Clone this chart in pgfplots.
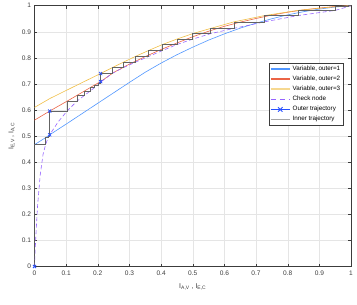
\documentclass[border=0pt]{standalone}
\usepackage{pgfplots}
\pgfplotsset{compat=1.18}
\usepackage{fontspec}
\setmainfont{Liberation Sans}
\definecolor{cblue}{RGB}{80,150,255}
\definecolor{cred}{RGB}{235,100,70}
\definecolor{cyel}{RGB}{240,190,70}
\definecolor{cpur}{RGB}{150,100,255}
\definecolor{couter}{RGB}{40,80,255}
\definecolor{cinner}{RGB}{100,100,100}
\definecolor{caxis}{RGB}{60,60,60}
\begin{document}
\begin{tikzpicture}
\begin{axis}[
  scale only axis, width=316.5bp, height=260.8bp,
  xmin=0, xmax=1, ymin=0, ymax=1,
  xtick={0,0.1,0.2,0.3,0.4,0.5,0.6,0.7,0.8,0.9,1},
  ytick={0,0.1,0.2,0.3,0.4,0.5,0.6,0.7,0.8,0.9,1},
  xticklabels={0,0.1,0.2,0.3,0.4,0.5,0.6,0.7,0.8,0.9,1},
  yticklabels={0,0.1,0.2,0.3,0.4,0.5,0.6,0.7,0.8,0.9,1},
  tick align=inside, tick pos=both, major tick length=3bp,
  grid=major, grid style={line width=0.4pt, color=black!10},
  axis line style={line width=0.5pt, color=caxis},
  tick style={color=caxis, line width=0.4pt},
  ticklabel style={font=\fontsize{6.6}{7}\selectfont, text=caxis},
  xticklabel style={yshift=-1bp},
  xlabel={I\textsubscript{A,V} , I\textsubscript{E,C}},
  ylabel={I\textsubscript{E,V} , I\textsubscript{A,C}},
  label style={font=\fontsize{7}{8}\selectfont, text=caxis},
  xlabel style={yshift=-1bp},
  legend style={at={(0.976,0.78)}, anchor=north east,
    font=\fontsize{6.3}{7.6}\selectfont, draw=caxis,
    inner sep=1bp, cells={anchor=west}},
  every axis plot/.append style={line width=0.6pt},
  unbounded coords=jump,
]
\addplot[color=cblue, legend image code/.code={\draw[cblue, line width=1.7pt] (0bp,0bp) -- (19bp,0bp);}] coordinates {
(0,0.467) (0.035,0.494) (0.048,0.505) (0.1,0.546) (0.15,0.586) (0.2,0.626)
(0.25,0.666) (0.3,0.706) (0.35,0.745) (0.4,0.780) (0.45,0.812) (0.5,0.841)
(0.55,0.868) (0.6,0.892) (0.65,0.914) (0.7,0.933) (0.75,0.950) (0.8,0.965)
(0.85,0.977) (0.9,0.987) (0.95,0.995) (1,1)};
\addlegendentry{Variable, outer=1}
\addplot[color=cred, legend image code/.code={\draw[cred, line width=1.7pt] (0bp,0bp) -- (19bp,0bp);}] coordinates {
(0,0.561) (0.048,0.596) (0.103,0.634) (0.134,0.656) (0.158,0.673) (0.176,0.686)
(0.19,0.696) (0.2,0.703) (0.209,0.709) (0.25,0.744) (0.3,0.776) (0.35,0.805)
(0.4,0.832) (0.45,0.857) (0.5,0.881) (0.55,0.902) (0.6,0.921) (0.65,0.937)
(0.7,0.951) (0.75,0.964) (0.8,0.975) (0.85,0.984) (0.9,0.991) (0.95,0.997) (1,1)};
\addlegendentry{Variable, outer=2}
\addplot[color=cyel, legend image code/.code={\draw[cyel!60, line width=1.9pt] (0bp,0bp) -- (19bp,0bp);}] coordinates {
(0,0.610) (0.05,0.645) (0.1,0.675) (0.145,0.702) (0.209,0.740) (0.245,0.762)
(0.28,0.783) (0.318,0.805) (0.36,0.828) (0.404,0.851) (0.45,0.872) (0.5,0.893)
(0.557,0.913) (0.63,0.938) (0.726,0.962) (0.832,0.982) (0.95,0.996) (1,1)};
\addlegendentry{Variable, outer=3}
\addplot[color=cpur, dashed, dash pattern=on 4bp off 2.5bp, legend image code/.code={\draw[cpur, line width=1.5pt, dash pattern=on 5bp off 4bp] (0bp,0bp) -- (19bp,0bp);}] coordinates {
(0,0) (0.002,0.06) (0.004,0.11) (0.0095,0.23) (0.018,0.35) (0.027,0.43)
(0.035,0.467) (0.043,0.494) (0.048,0.505) (0.075,0.555) (0.103,0.596)
(0.134,0.634) (0.158,0.656) (0.176,0.673) (0.19,0.686) (0.2,0.696) (0.209,0.707)
(0.245,0.740) (0.28,0.762) (0.318,0.783) (0.36,0.805) (0.404,0.828) (0.45,0.851)
(0.5,0.872) (0.557,0.893) (0.63,0.913) (0.726,0.938) (0.832,0.962) (0.95,0.982)
(0.99,0.996) (1,1)};
\addlegendentry{Check node}
\addplot[color=couter, line width=0.9pt, mark=x, mark size=2.2pt, mark options={solid, line width=0.8pt},
  legend image code/.code={\draw[couter, line width=1.6pt] (0bp,0bp) -- (19bp,0bp); \draw[couter, line width=0.9pt] (7.3bp,-2.2bp) -- (11.7bp,2.2bp) (7.3bp,2.2bp) -- (11.7bp,-2.2bp);}] coordinates {
(0,0) (nan,nan) (0.048,0.505) (0.048,0.596) (nan,nan) (0.209,0.709) (0.209,0.740)};
\addlegendentry{Outer trajectory}
\addplot[color=cinner, line width=0.6pt, legend image code/.code={\draw[black!35, line width=1.8pt] (0bp,0bp) -- (19bp,0bp);}] coordinates {
(0,0) (0,0.467) (0.035,0.467) (0.035,0.494) (0.043,0.494) (0.043,0.5)
(0.046,0.5) (0.046,0.503) (0.048,0.503) (0.048,0.505) (0.048,0.596)
(0.103,0.596) (0.103,0.634) (0.134,0.634) (0.134,0.656) (0.158,0.656)
(0.158,0.673) (0.176,0.673) (0.176,0.686) (0.19,0.686) (0.19,0.696)
(0.2,0.696) (0.2,0.703) (0.209,0.703) (0.209,0.709) (0.209,0.740)
(0.245,0.740) (0.245,0.762) (0.28,0.762) (0.28,0.783) (0.318,0.783)
(0.318,0.805) (0.36,0.805) (0.36,0.828) (0.404,0.828) (0.404,0.851)
(0.45,0.851) (0.45,0.872) (0.5,0.872) (0.5,0.893) (0.557,0.893)
(0.557,0.913) (0.63,0.913) (0.63,0.938) (0.726,0.938) (0.726,0.962)
(0.832,0.962) (0.832,0.982) (0.95,0.982) (0.95,0.996) (0.99,0.996)
(0.99,1) (1,1)};
\addlegendentry{Inner trajectory}
\end{axis}
\path (current axis.south west) ++(-34.5bp,-38.5bp) coordinate (bbA);
\path (current axis.north east) ++(6bp,5.7bp) coordinate (bbB);
\end{tikzpicture}
\end{document}
